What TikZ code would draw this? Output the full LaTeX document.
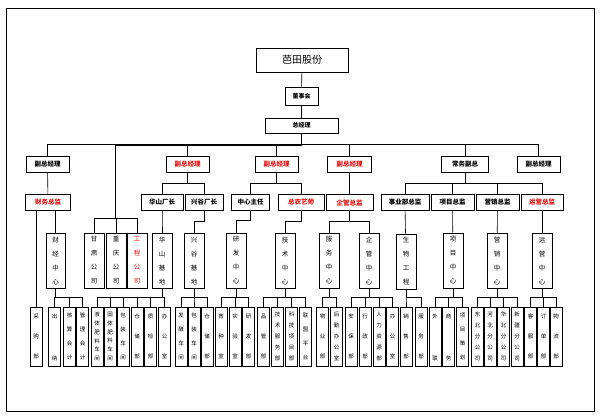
\documentclass[tikz,border=0pt]{standalone}
\usepackage{fontspec}
\newfontfamily\cjk{Noto Sans CJK SC}
\definecolor{redtxt}{RGB}{230,20,20}
\tikzset{
  box/.style={draw=black, line width=0.6pt, inner sep=0pt, font=\cjk},
  lvtwo/.style={box, minimum height=16pt, font=\cjk\bfseries\fontsize{6.5}{7}\selectfont},
  vbox/.style={box, minimum width=20pt, minimum height=55pt, align=center, font=\cjk\fontsize{6.5}{14}\selectfont},
  bot/.style={box, minimum width=12pt, minimum height=59pt, align=center},
  toplbl/.style={anchor=north, inner sep=0pt, yshift=-7pt, font=\cjk\fontsize{5.5}{7}\selectfont},
  botlbl/.style={anchor=south, inner sep=0pt, yshift=5pt, font=\cjk\fontsize{5.5}{7}\selectfont},
  botthree/.style={bot, font=\cjk\fontsize{5.5}{20}\selectfont},
  botfour/.style={bot, font=\cjk\fontsize{5.5}{14}\selectfont},
  botfive/.style={bot, font=\cjk\fontsize{5.5}{11}\selectfont},
  botsix/.style={bot, font=\cjk\fontsize{5.5}{8.8}\selectfont},
  wire/.style={draw=black, line width=0.6pt},
}
\begin{document}
\begin{tikzpicture}[x=1pt,y=-1pt]
  \useasboundingbox (0,0) rectangle (600,416);
  \draw[line width=1pt] (6.5,8.5) rectangle (594,411);
  % top
  \node[box, minimum width=92pt, minimum height=24pt, font=\cjk\fontsize{10}{12}\selectfont] (bt) at (302,60) {芭田股份};
  \node[box, minimum width=33pt, minimum height=18pt, font=\cjk\bfseries\fontsize{6}{7}\selectfont] (dsh) at (301.5,96) {董事会};
  \node[box, minimum width=73pt, minimum height=15pt, font=\cjk\bfseries\fontsize{6}{7}\selectfont] (zjl) at (301.5,125.5) {总经理};
  \draw[wire] (bt) -- (dsh);
  \draw[wire] (dsh) -- (zjl);
  % level 2
  \node[lvtwo, minimum width=43pt] (fz1) at (47.5,164) {副总经理};
  \node[lvtwo, minimum width=43pt, text=redtxt] (fz2) at (187.5,164) {副总经理};
  \node[lvtwo, minimum width=43pt, text=redtxt] (fz3) at (276.5,164) {副总经理};
  \node[lvtwo, minimum width=44pt, text=redtxt] (fz4) at (349.5,164) {副总经理};
  \node[lvtwo, minimum width=47pt] (cwfz) at (465,164) {常务副总};
  \node[lvtwo, minimum width=43pt] (fz5) at (538.5,164) {副总经理};
  \coordinate (gsj) at (115,145);
  \foreach \c in {fz1,fz2,fz3,fz4,cwfz,fz5}
    \draw[wire] (zjl.south) |- ([yshift=11pt]\c.north) -- (\c.north);
  \draw[wire] (zjl.south) |- (gsj);
  % level 3
  \node[lvtwo, minimum width=45pt, text=redtxt] (cwzj) at (48,202.5) {财务总监};
  \node[lvtwo, minimum width=42pt] (hscz) at (162,202.5) {华山厂长};
  \node[lvtwo, minimum width=38pt] (xgcz) at (204,202.5) {兴谷厂长};
  \node[lvtwo, minimum width=38pt] (zxzr) at (250.5,202.5) {中心主任};
  \node[lvtwo, minimum width=46pt, text=redtxt] (zny) at (301,202.5) {总农艺师};
  \node[lvtwo, minimum width=47pt, text=redtxt] (qgzj) at (349.5,202.5) {企管总监};
  \node[lvtwo, minimum width=48pt] (sybzj) at (405,202.5) {事业部总监};
  \node[lvtwo, minimum width=43pt] (xmzj) at (452.5,202.5) {项目总监};
  \node[lvtwo, minimum width=43pt] (yxzj) at (497.5,202.5) {营销总监};
  \node[lvtwo, minimum width=42pt, text=redtxt] (yyzj) at (542,202.5) {运营总监};
  \draw[wire] (fz1) -- (cwzj);
  \foreach \c in {hscz,xgcz}
    \draw[wire] (fz2.south) |- ([yshift=11pt]\c.north) -- (\c.north);
  \foreach \c in {zxzr,zny}
    \draw[wire] (fz3.south) |- ([yshift=11pt]\c.north) -- (\c.north);
  \draw[wire] (fz4) -- (qgzj);
  \foreach \c in {sybzj,xmzj,yxzj,yyzj}
    \draw[wire] (cwfz.south) |- ([yshift=11pt]\c.north) -- (\c.north);
  % level 4
  \node[vbox, minimum width=19pt] (cj) at (55.5,260.5) {财\\经\\中\\心};
  \node[vbox] (gs) at (94,260.5) {甘\\肃\\公\\司};
  \node[vbox] (cq) at (116,260.5) {重\\庆\\公\\司};
  \node[vbox, text=redtxt] (gc) at (137,260.5) {工\\程\\公\\司};
  \node[vbox] (hsjd) at (162,260.5) {华\\山\\基\\地};
  \node[vbox] (xgjd) at (194,260.5) {兴\\谷\\基\\地};
  \node[vbox] (yfzx) at (236,260.5) {研\\发\\中\\心};
  \node[vbox] (jszx) at (285,260.5) {技\\术\\中\\心};
  \node[vbox] (fwzx) at (329,260.5) {服\\务\\中\\心};
  \node[vbox] (qgzx) at (369,260.5) {企\\管\\中\\心};
  \node[vbox] (swgc) at (406,261.5) {生\\物\\工\\程};
  \node[vbox] (xmzx) at (453,260.5) {项\\目\\中\\心};
  \node[vbox] (yxzx) at (497,260.5) {营\\销\\中\\心};
  \node[vbox] (yyzx) at (542,261) {运\\营\\中\\心};
  \draw[wire] (cwzj.south -| cj.north) -- (cj.north);
  \foreach \c in {gs,cq,gc}
    \draw[wire] (gsj) |- ([yshift=14pt]\c.north) -- (\c.north);
  \draw[wire] (hscz.south) |- ([yshift=12pt]hsjd.north) -- (hsjd.north);
  \draw[wire] (xgcz.south) |- ([yshift=11pt]xgjd.north) -- (xgjd.north);
  \draw[wire] (zxzr.south) |- ([yshift=12pt]yfzx.north) -- (yfzx.north);
  \draw[wire] (zny.south) |- ([yshift=11pt]jszx.north) -- (jszx.north);
  \foreach \c in {fwzx,qgzx}
    \draw[wire] (qgzj.south) |- ([yshift=11pt]\c.north) -- (\c.north);
  \draw[wire] (sybzj) -- (swgc);
  \draw[wire] (xmzj) -- (xmzx);
  \draw[wire] (yxzj) -- (yxzx);
  \draw[wire] (yyzj) -- (yyzx);
  % level 5
  \node[botthree] (cg) at (36,336.5) {采\\购\\部};
  \node[bot, label={[toplbl]north:出}, label={[botlbl]south:纳}] (cn) at (54.5,336.5) {};
  \node[botfour] (hs) at (69.5,336.5) {核\\算\\会\\计};
  \node[botfour] (gl) at (82.5,336.5) {管\\理\\会\\计};
  \node[botsix] (yt) at (97,336.5) {液\\体\\肥\\料\\车\\间};
  \node[botsix] (gt) at (110,336.5) {固\\体\\肥\\料\\车\\间};
  \node[botfour] (bz) at (123,336.5) {包\\装\\车\\间};
  \node[botthree] (cc) at (137,336.5) {仓\\储\\部};
  \node[botthree] (zj) at (150.5,336.5) {质\\检\\部};
  \node[botthree] (bg) at (164.5,336.5) {办\\公\\室};
  \node[botfour] (fj) at (181,336.5) {发\\酵\\车\\间};
  \node[botfour] (bzb) at (194,336.5) {包\\装\\车\\间};
  \node[botthree] (ccb) at (207,336.5) {仓\\储\\部};
  \node[botthree] (yz) at (221,336.5) {育\\种\\室};
  \node[botthree] (sy) at (235,336.5) {实\\验\\室};
  \node[botthree] (yf) at (248.5,336.5) {研\\发\\部};
  \node[botthree] (pg) at (263.5,336.5) {品\\管\\部};
  \node[botfive] (jf) at (277.5,336.5) {技\\术\\服\\务\\部};
  \node[botfive] (kj) at (291.5,336.5) {科\\技\\项\\目\\部};
  \node[botfour] (lm) at (305.5,336.5) {联\\盟\\平\\台};
  \node[botthree] (wy) at (322.5,336.5) {物\\业\\部};
  \node[botfive] (hq) at (336.5,336.5) {后\\勤\\办\\公\\室};
  \node[botthree] (ab) at (351,336.5) {安\\保\\部};
  \node[botthree] (xz) at (365,336.5) {行\\政\\部};
  \node[botfive] (rl) at (379,336.5) {人\\力\\资\\源\\部};
  \node[botthree] (bgb) at (392.5,336.5) {办\\公\\室};
  \node[botthree] (xs) at (406,336.5) {销\\售\\部};
  \node[botthree] (fw) at (421,336.5) {服\\务\\部};
  \node[bot, label={[toplbl]north:外}, label={[botlbl]south:联}] (wl) at (435,336.5) {};
  \node[bot, label={[toplbl]north:商}, label={[botlbl]south:务}] (sw) at (448.5,336.5) {};
  \node[botfour] (xc) at (462.5,336.5) {项\\目\\策\\划};
  \node[botfive] (db) at (477.5,336.5) {东\\北\\分\\公\\司};
  \node[botfive] (hb) at (490,336.5) {河\\北\\分\\公\\司};
  \node[botfive] (hbb) at (503.5,336.5) {华\\北\\分\\公\\司};
  \node[botfive] (xj) at (517,336.5) {新\\疆\\分\\公\\司};
  \node[botthree] (kf) at (530.5,336.5) {客\\服\\部};
  \node[botthree] (dd) at (543.5,336.5) {订\\单\\部};
  \node[botthree] (wls) at (556,336.5) {物\\流\\部};
  \draw[wire] (cwzj.south -| cg.north) -- (cg.north);
  \foreach \p/\cs in {cj/{cn,hs,gl}, hsjd/{yt,gt,bz,cc,zj,bg}, xgjd/{fj,bzb,ccb},
      yfzx/{yz,sy,yf}, jszx/{pg,jf,kj,lm}, fwzx/{wy,hq}, qgzx/{ab,xz,rl,bgb},
      swgc/{xs,fw}, xmzx/{wl,sw,xc}, yxzx/{db,hb,hbb,xj}, yyzx/{kf,dd,wls}}
    \foreach \c in \cs
      \draw[wire] (\p.south) |- ([yshift=9pt]\c.north) -- (\c.north);
\end{tikzpicture}
\end{document}
